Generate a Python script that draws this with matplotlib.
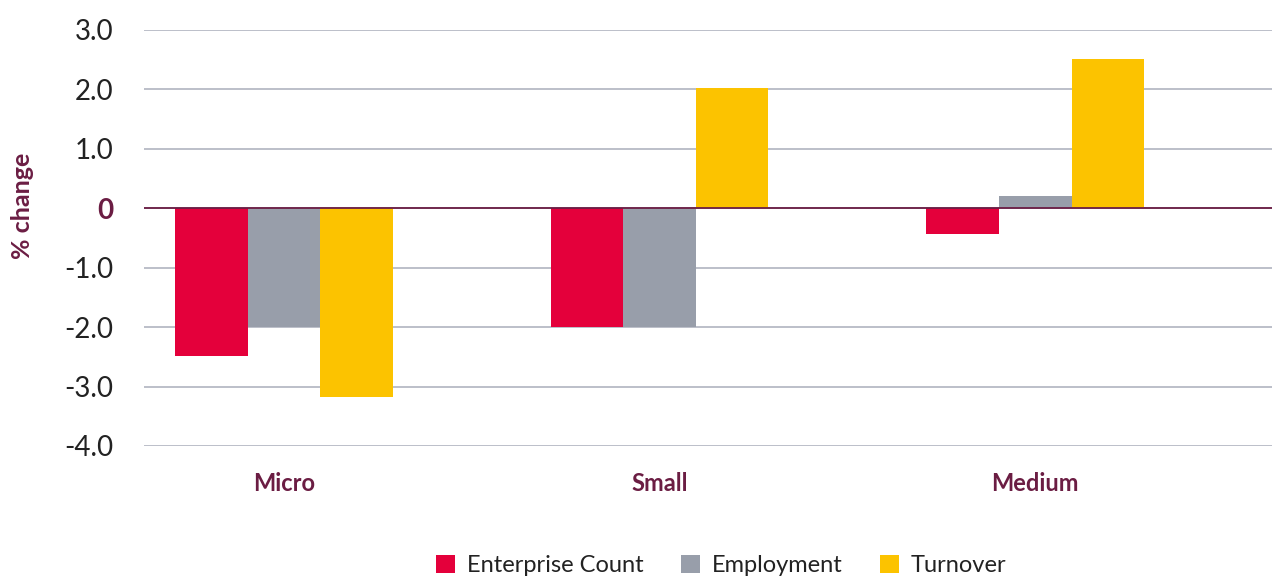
import numpy as np
import matplotlib.pyplot as plt

# Data
categories = ['Micro', 'Small', 'Medium']
series_names = ['Enterprise Count', 'Employment', 'Turnover']
enterprise_count = [-2.48, -2.0, -0.43]
employment = [-2.0, -2.0, 0.2]
turnover = [-3.18, 2.02, 2.52]
y_ticks = [3, 2, 1, 0, -1, -2, -3, -4]
y_tick_labels = ['3.0', '2.0', '1.0', '0', '-1.0', '-2.0', '-3.0', '-4.0']

colors = ['#E4003B', '#989EAA', '#FCC300']
maroon = '#6B1D43'

plt.rcParams['font.family'] = ['Lato', 'DejaVu Sans']

fig = plt.figure(figsize=(12.72, 5.78), dpi=100)
ax = fig.add_axes([144 / 1272, 1 - 446 / 578, 1 - 144 / 1272, (446 - 30) / 578])

x = np.arange(len(categories))
w = 0.193
for i, (vals, name) in enumerate(zip([enterprise_count, employment, turnover], series_names)):
    ax.bar(x + (i - 1) * w, vals, width=w, color=colors[i], label=name, zorder=3)

ax.set_xlim(-0.372, 2.63)
ax.set_ylim(-4, 3)

# gridlines
ax.set_yticks(y_ticks)
ax.set_yticklabels(y_tick_labels)
ax.grid(axis='y', color='#A9AEBB', linewidth=1.1, zorder=0)
ax.axhline(0, color=maroon, linewidth=1.3, zorder=4)

for lab in ax.get_yticklabels():
    lab.set_fontsize(20)
    lab.set_color('#222222')
    if lab.get_text() == '0':
        lab.set_fontweight('bold')
        lab.set_color(maroon)

ax.set_xticks(x)
ax.set_xticklabels(categories, fontsize=17, fontweight='bold', color=maroon)
ax.tick_params(axis='x', length=0, pad=19)
ax.tick_params(axis='y', length=0, pad=22)
for s in ax.spines.values():
    s.set_visible(False)

fig.text(22 / 1272, 1 - 206 / 578, '% change', rotation=90, ha='center', va='center',
         fontsize=18, fontweight='bold', color=maroon)

fig.legend(loc='center', bbox_to_anchor=(0.567, 0.022), ncol=3, frameon=False,
           fontsize=17, handlelength=0.8, handleheight=0.8, handletextpad=0.5,
           columnspacing=1.6, labelcolor='#222222')

fig.savefig('out.png', dpi=100)
